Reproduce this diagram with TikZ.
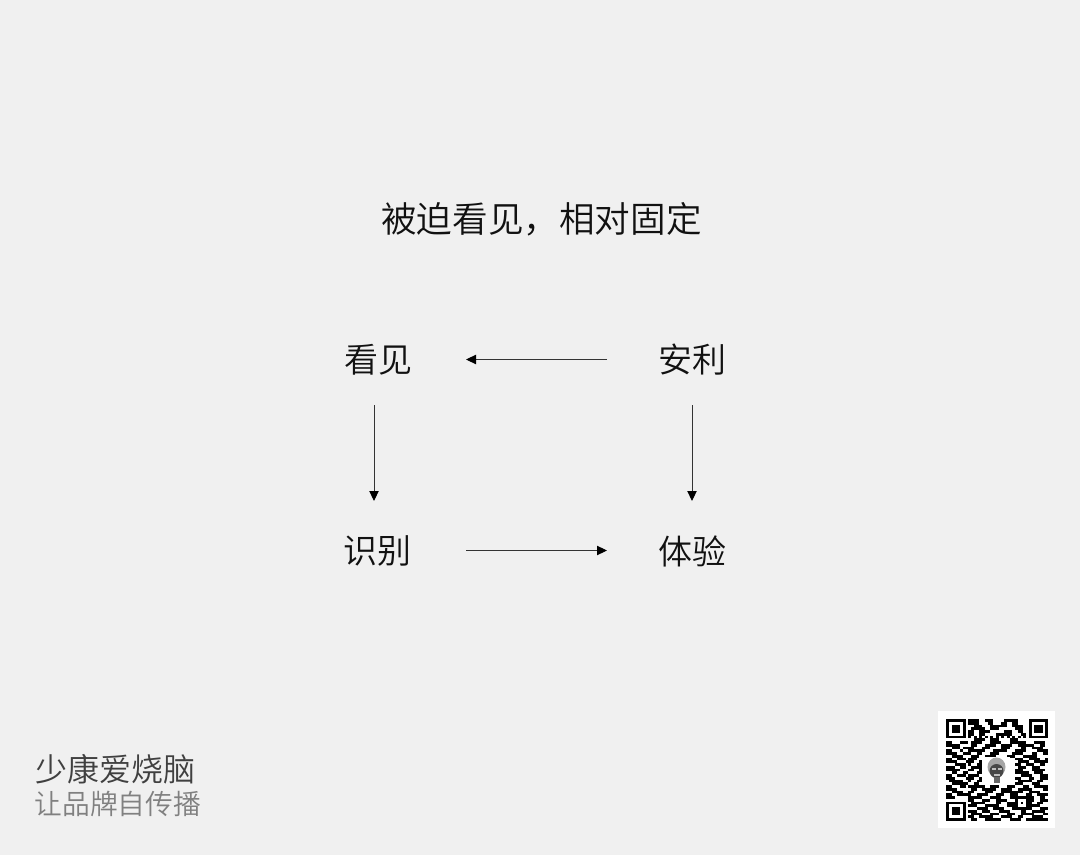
\documentclass[tikz,border=0pt]{standalone}
\usepackage{fontspec}
\setmainfont{Noto Sans CJK SC}[UprightFont=* DemiLight]
\definecolor{bgc}{HTML}{F0F0F0}
\definecolor{inkc}{HTML}{111111}
\definecolor{linec}{HTML}{333333}
\definecolor{darkt}{HTML}{404040}
\definecolor{greyt}{HTML}{808080}
\usetikzlibrary{arrows.meta}
\tikzset{
 px/.style={x=0.75pt,y=-0.75pt},
 lab/.style={inner sep=0pt,font=\fontsize{25.5pt}{26pt}\selectfont,text=inkc},
 arr/.style={draw=linec,line width=0.7pt,-{Triangle[length=7.5pt,width=7pt,fill=black,color=black]}},
 qrcell/.style={fill=black},
}
\newcount\qrcol
\newcount\qrrownum
\def\qrscan#1{\ifx#1;\else
  \if#11\fill[qrcell] ({946.3+\the\qrcol*2.75},{719+\the\qrrownum*2.75}) rectangle ++(2.8,2.8);\fi
  \advance\qrcol by 1 \expandafter\qrscan\fi}
\begin{document}
\begin{tikzpicture}[px]
\useasboundingbox (0,0) rectangle (1080,855);
\fill[bgc] (0,0) rectangle (1080,855);
\node[lab,font=\fontsize{26.7pt}{28pt}\selectfont] (title) at (541.5,219) {被迫看见，相对固定};
\node[lab] (a) at (378.5,359.5) {看见};
\node[lab] (b) at (692,359.5) {安利};
\node[lab] (c) at (377.5,551) {识别};
\node[lab] (d) at (692,551) {体验};
\coordinate (a1) at (607,359.5); \coordinate (a2) at (466,359.5);
\coordinate (b1) at (374,405); \coordinate (b2) at (374,501);
\coordinate (c1) at (692,405); \coordinate (c2) at (692,501);
\coordinate (d1) at (466,550.5); \coordinate (d2) at (607,550.5);
\draw[arr] (a1) -- (a2);
\draw[arr] (b1) -- (b2);
\draw[arr] (c1) -- (c2);
\draw[arr] (d1) -- (d2);
\node[inner sep=0pt,anchor=west,font=\fontsize{24pt}{26pt}\selectfont,text=darkt] (n1) at (35,769) {少康爱烧脑};
\node[inner sep=0pt,anchor=west,font=\fontsize{20.8pt}{24pt}\selectfont,text=greyt] (n2) at (34.5,804) {让品牌自传播};
\fill[white] (938,711) rectangle (1055,828);
\qrrownum=0
\foreach \qrdata in {
1111111011110011100001111100001111111,
1000001011110001100011001100001000001,
1011101000111000111111001111001011101,
1011101001111100111000000111001011101,
1011101011001111000001110011001011101,
1000001011001100001111110001101000001,
1111111010101010101010101010101111111,
0000000000111100111000011100000000000,
1100011101111000111100011111100011110,
1111100001100011110011110011111100110,
0011101111000111000011100001100111100,
1100010011111100011111000111100001111,
1111001110011000111000001111000110011,
0011110001110011110000111000111110000,
1100111011100011000000000111001111001,
1111000111001110000000000011110011111,
0001111010011100000000000110011100110,
1110011001111000000000000011100111000,
1111100011001100000000000111000111110,
0011001100011000000000000111110011100,
1100111011110000000000000001111000111,
1110000111001100000000000110001100111,
0111110010011000000000000011111001100,
0011111100110000000000000111000111000,
1100011011111100111000111000110011111,
1111000001100111110011110011111000011,
0011110011000011100011111111001111000,
1100111110011110001110011100011001111,
1110000011111000111100011111111100110,
0000000011000111001111000100011100111,
1111111001111100001100111101011001100,
1000001011100011111000111100011111000,
1011101000011110011110001111111000111,
1011101011100111000111100001100111110,
1011101001111000111000111001111100011,
1000001011001111100011110011000111100,
1111111001100011111100011110011111111
}{\global\qrcol=0 \expandafter\qrscan\qrdata;\global\advance\qrrownum by 1 }
\fill[white] (982,757) rectangle (1010,785);
\fill[black!35] (996.5,767) ellipse (9 and 9.5);
\fill[black!72] (996.5,771) ellipse (7 and 7);
\fill[black!25] (992,768) rectangle (995.5,770);
\fill[black!25] (998,768) rectangle (1001.5,770);
\fill[black!25] (993.5,774) rectangle (999.5,775.5);
\fill[black!60] (993.5,777) rectangle (999.5,783);
\end{tikzpicture}
\end{document}
